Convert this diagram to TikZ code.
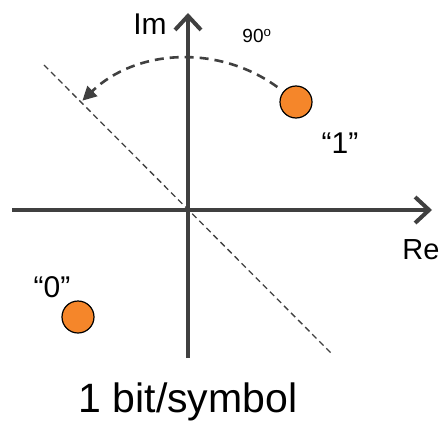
\documentclass[tikz,border=0pt]{standalone}
\usepackage{fontspec}
\setmainfont{Liberation Sans}
\usetikzlibrary{arrows.meta}
\definecolor{axisgray}{HTML}{404040}
\definecolor{dotorange}{HTML}{F5862A}
\begin{document}
\begin{tikzpicture}[x=1pt,y=1pt,
  axis/.style={line width=4pt,color=axisgray,-{Straight Barb[length=14pt,width=26pt,line width=4pt]}},
  diag/.style={line width=1.3pt,color=axisgray,dash pattern=on 6pt off 4pt},
  rot/.style={line width=2.6pt,color=axisgray,dash pattern=on 9pt off 6pt,-{Triangle[length=14pt,width=14pt]}},
  symb/.style={circle,draw=black,line width=1.2pt,fill=dotorange,minimum size=32pt,inner sep=0pt},
  lbl/.style={inner sep=0pt,anchor=base,font=\fontsize{30}{36}\selectfont}]
\useasboundingbox (0,0) rectangle (443,-422);
\coordinate (O) at (188,-210);
\coordinate (xl) at (12,-210);
\coordinate (xr) at (432,-210);
\coordinate (yb) at (188,-358);
\coordinate (yt) at (188,-13);
\coordinate (d1) at (44,-65);
\coordinate (d2) at (332,-354);
\draw[diag] (d1) -- (d2);
\draw[axis] (xl) -- (xr);
\draw[axis] (yb) -- (yt);
\draw[rot] ([shift={(54:152)}]O) arc[start angle=54,end angle=134,radius=152];
\node[symb] (s1) at (296,-102) {};
\node[symb] (s0) at (78,-317) {};
\node[lbl] (im) at (150,-35) {Im};
\node[lbl,font=\fontsize{19}{23}\selectfont] (deg) at (257,-43) {90\textsuperscript{o}};
\node[lbl] (t1) at (340,-153) {“1”};
\node[lbl,font=\fontsize{29}{35}\selectfont] (re) at (421,-259) {Re};
\node[lbl] (t0) at (52,-297) {“0”};
\node[lbl,font=\fontsize{41}{49}\selectfont] (cap) at (188,-412) {1 bit/symbol};
\end{tikzpicture}
\end{document}
